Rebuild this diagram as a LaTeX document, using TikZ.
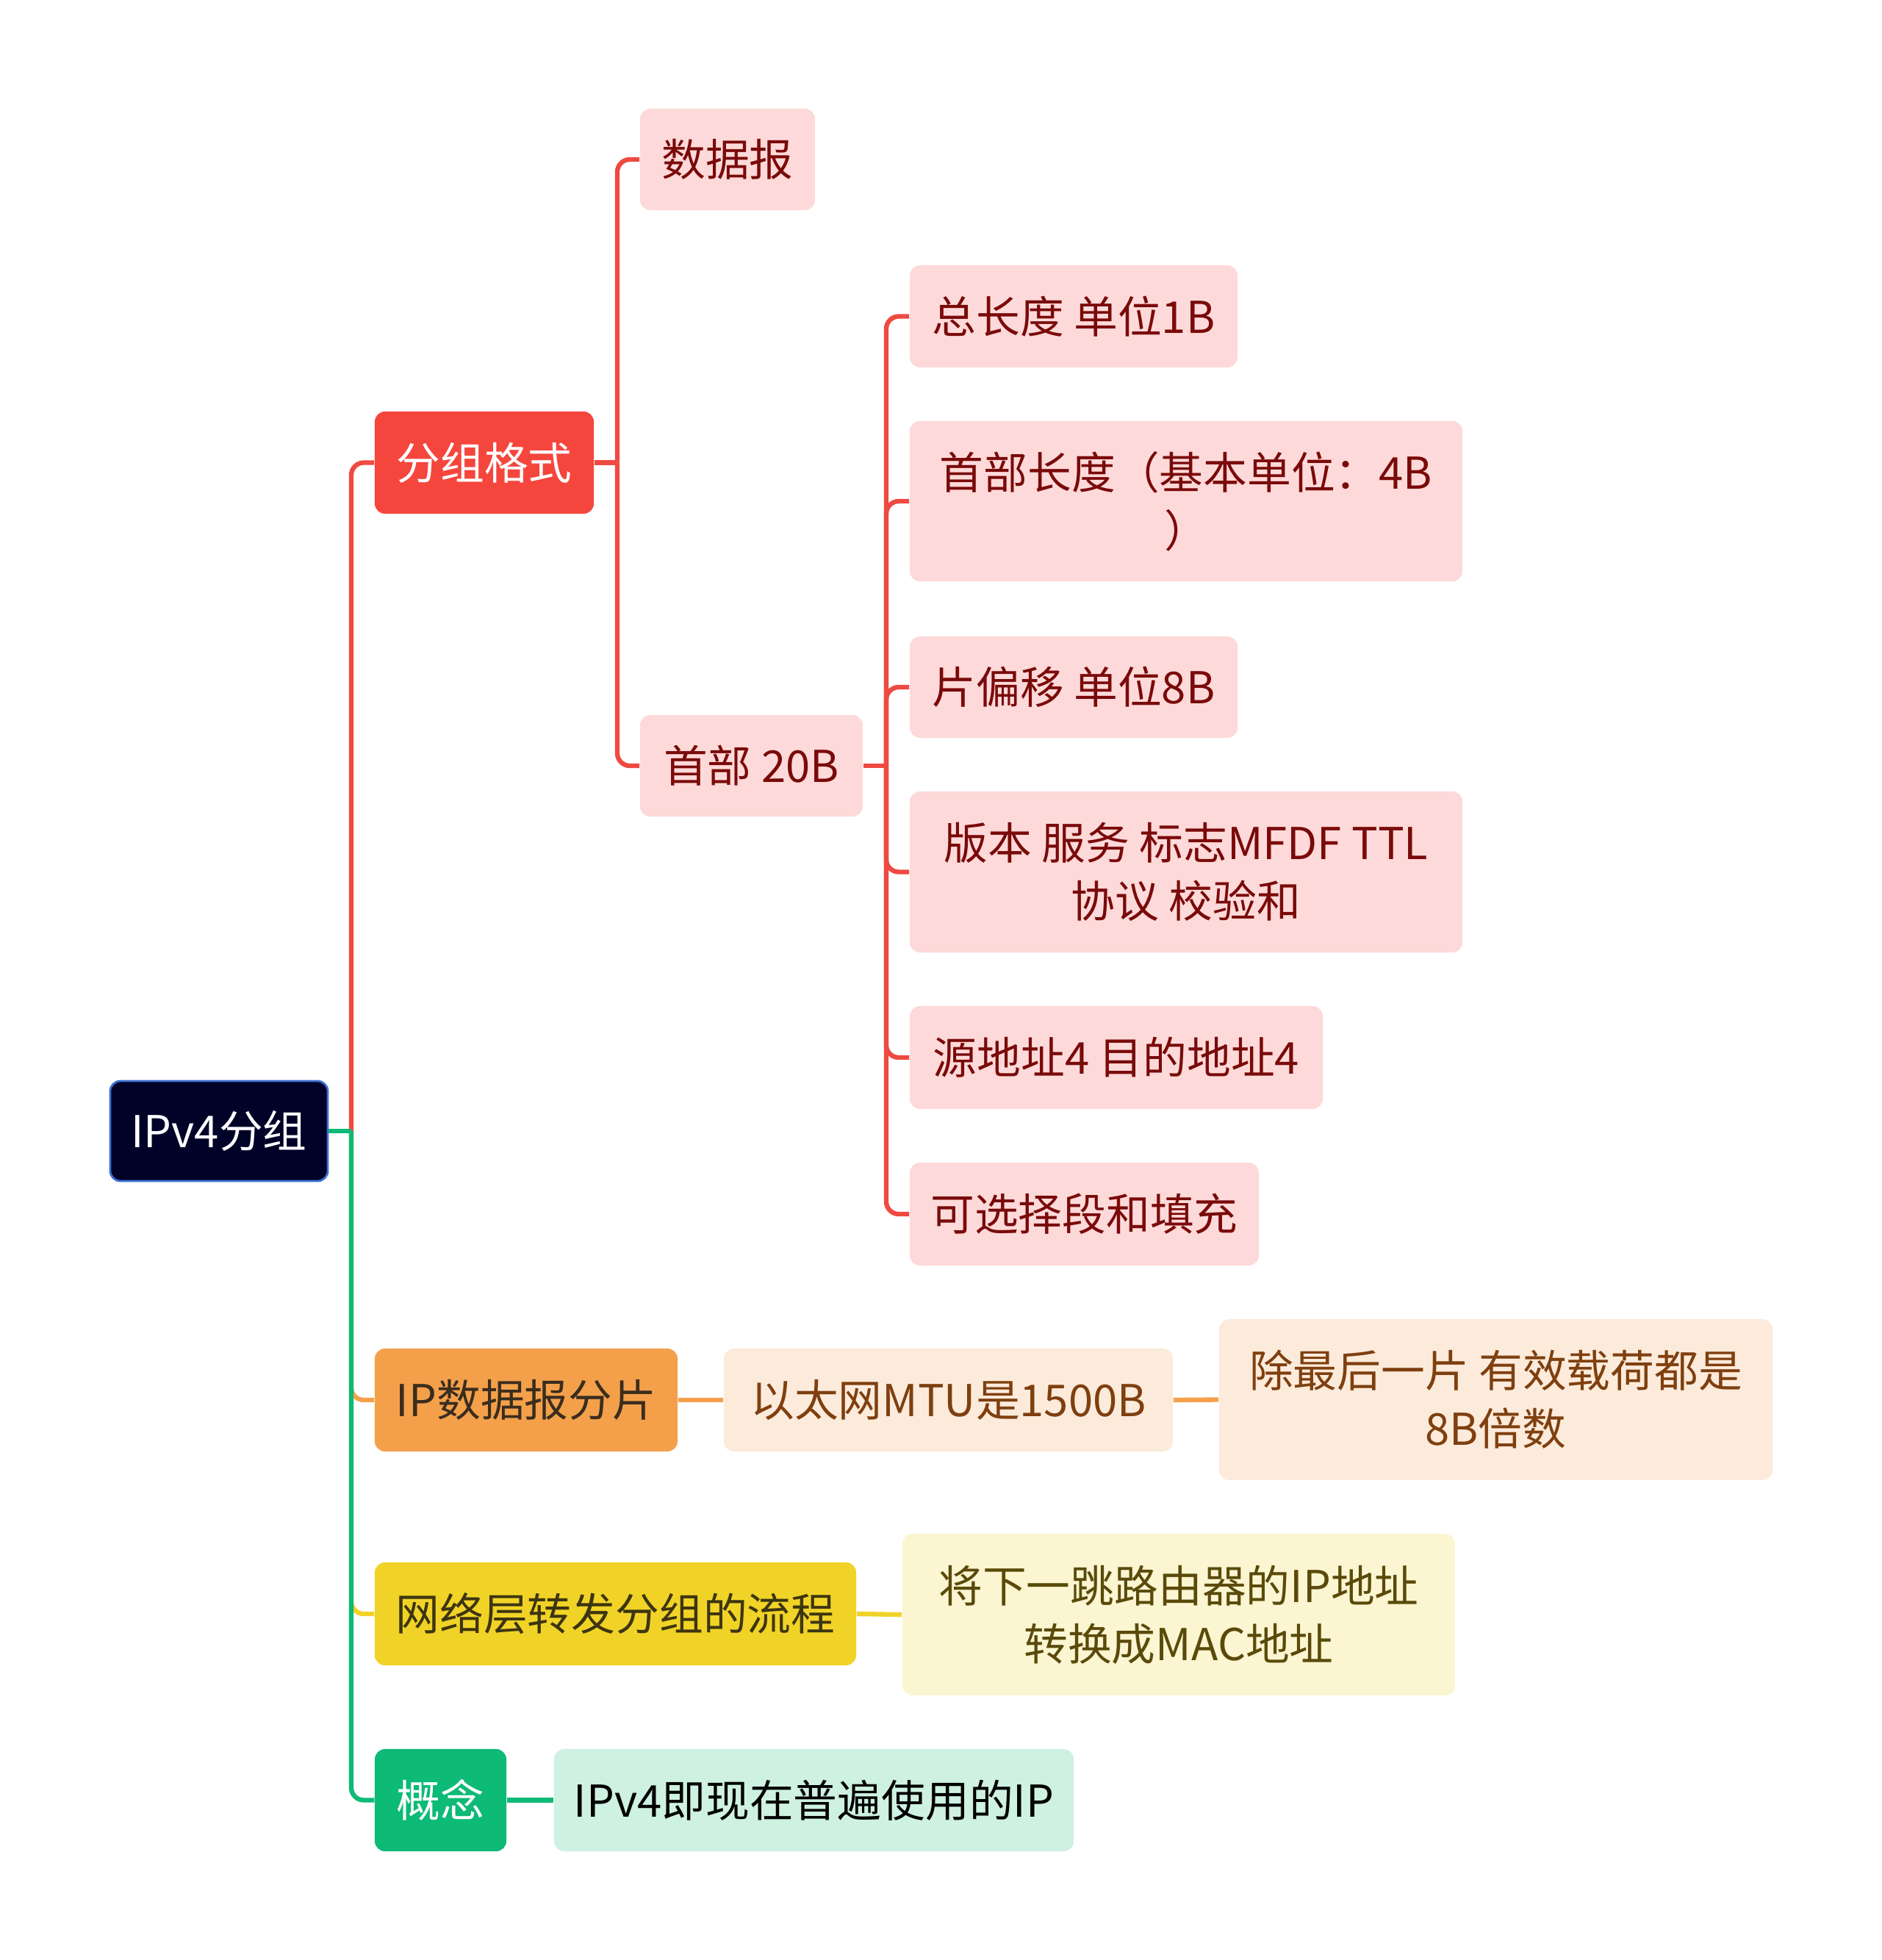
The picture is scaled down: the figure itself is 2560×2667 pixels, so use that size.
\documentclass[tikz,border=0pt]{standalone}
\usepackage{fontspec}
\setmainfont{Noto Sans CJK SC}
\definecolor{rootfill}{HTML}{000228}
\definecolor{rootdraw}{HTML}{3A6FD0}
\definecolor{redA}{HTML}{F5463D}
\definecolor{redL}{HTML}{FDDAD9}
\definecolor{redT}{HTML}{7A0A0A}
\definecolor{redLine}{HTML}{EE4A42}
\definecolor{orA}{HTML}{F4A04B}
\definecolor{orL}{HTML}{FCEBDB}
\definecolor{orT}{HTML}{7F3F0F}
\definecolor{orDark}{HTML}{3A2D1E}
\definecolor{yeA}{HTML}{F1D327}
\definecolor{yeL}{HTML}{FBF5D1}
\definecolor{yeT}{HTML}{5A4A0A}
\definecolor{yeDark}{HTML}{3D3510}
\definecolor{grA}{HTML}{0DBA76}
\definecolor{grL}{HTML}{CEF1E2}
\begin{document}
\begin{tikzpicture}[x=0.01cm,y=-0.01cm,
  box/.style={rounded corners=0.14cm, inner sep=0pt, align=center,
    font=\fontsize{17}{22.5}\selectfont},
  rootbox/.style={box, fill=rootfill, draw=rootdraw, line width=0.8pt, text=white},
  redmain/.style={box, fill=redA, text=white},
  redsub/.style={box, fill=redL, text=redT},
  ormain/.style={box, fill=orA, text=orDark},
  orsub/.style={box, fill=orL, text=orT},
  yemain/.style={box, fill=yeA, text=yeDark},
  yesub/.style={box, fill=yeL, text=yeT},
  grmain/.style={box, fill=grA, text=white},
  grsub/.style={box, fill=grL, text=black},
  conn/.style={line width=1.8pt, rounded corners=0.17cm},
  wh/.style 2 args={minimum width=#1cm, minimum height=#2cm}
]
\useasboundingbox (0,0) rectangle (2560,2667);

% nodes
\node[rootbox, wh={2.96}{1.36}] (root) at (298,1539) {IPv4分组};

\node[redmain, wh={2.98}{1.39}] (fz) at (659,629.5) {分组格式};
\node[redsub, wh={2.38}{1.38}] (sjb) at (990,217) {数据报};
\node[redsub, wh={3.03}{1.38}] (sb) at (1022.5,1042) {首部 20B};
\node[redsub, wh={4.46}{1.39}] (c1) at (1461,430.5) {总长度 单位1B};
\node[redsub, wh={7.52}{2.18}] (c2) at (1614,682) {首部长度（基本单位：4B\\）};
\node[redsub, wh={4.46}{1.38}] (c3) at (1461,935) {片偏移 单位8B};
\node[redsub, wh={7.52}{2.19}] (c4) at (1614,1186.5) {版本 服务 标志MFDF TTL\\协议 校验和};
\node[redsub, wh={5.62}{1.40}] (c5) at (1519,1439) {源地址4 目的地址4};
\node[redsub, wh={4.75}{1.40}] (c6) at (1475.5,1652) {可选择段和填充};

\node[ormain, wh={4.12}{1.40}] (fp) at (716,1905) {IP数据报分片};
\node[orsub, wh={6.11}{1.40}] (mtu) at (1290.5,1905) {以太网MTU是1500B};
\node[orsub, wh={7.53}{2.19}] (last) at (2035.5,1904.5) {除最后一片 有效载荷都是\\8B倍数};

\node[yemain, wh={6.55}{1.40}] (wl) at (837.5,2196) {网络层转发分组的流程};
\node[yesub, wh={7.52}{2.20}] (jx) at (1604,2197) {将下一跳路由器的IP地址\\转换成MAC地址};

\node[grmain, wh={1.79}{1.39}] (gn) at (599.5,2449.5) {概念};
\node[grsub, wh={7.07}{1.39}] (ipv) at (1107.5,2449.5) {IPv4即现在普遍使用的IP};

% junctions
\coordinate (rj) at (478,1539);
\coordinate (fzj) at (840,629.5);
\coordinate (sbj) at (1206,1042);

% connectors: root level
\draw[conn, draw=redLine] (rj) |- (fz.west);
\draw[conn, draw=orA] (rj) |- (fp.west);
\draw[conn, draw=yeA] (rj) |- (wl.west);
\draw[conn, draw=grA] (rj) |- (gn.west);
\draw[conn, draw=grA] (root.east) -- (rj);

% 分组格式 subtree
\draw[conn, draw=redLine] (fz.east) -- (fzj);
\draw[conn, draw=redLine] (fzj) |- (sjb.west);
\draw[conn, draw=redLine] (fzj) |- (sb.west);
\draw[conn, draw=redLine] (sb.east) -- (sbj);
\foreach \c in {c1,c2,c3,c4,c5,c6}
  \draw[conn, draw=redLine] (sbj) |- (\c.west);

% other subtrees
\draw[conn, draw=orA] (fp.east) -- (mtu.west);
\draw[conn, draw=orA] (mtu.east) -- (last.west);
\draw[conn, draw=yeA] (wl.east) -- (jx.west);
\draw[conn, draw=grA] (gn.east) -- (ipv.west);
\end{tikzpicture}
\end{document}
